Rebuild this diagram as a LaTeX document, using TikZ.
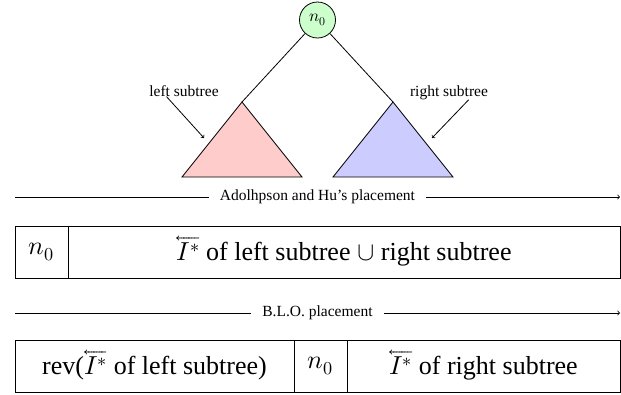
\documentclass[tikz,border=0pt]{standalone}
\usepackage{amsmath}
\usepackage{unicode-math}
\setmainfont{Liberation Serif}
\setmathfont{latinmodern-math.otf}
\usetikzlibrary{positioning,calc}
\begin{document}
\begin{tikzpicture}[>=to,x=1pt,y=-1pt,line width=0.8pt,
	big/.style={font=\fontsize{26}{30}\selectfont},
	small/.style={font=\fontsize{15.5}{18}\selectfont},
	cell/.style={draw,rectangle,minimum height=52pt,inner sep=0pt,outer sep=0pt,big},
	band/.style={fill=white,inner xsep=11pt,inner ysep=2pt,small}]
	\useasboundingbox (0,0) rectangle (621,394);
	% the tree
	\node[draw,circle,fill=green!20,minimum size=36pt,inner sep=0pt,font=\fontsize{17}{20}\selectfont] (root) at (317.5,20) {$n_0$};
	\coordinate (ltop) at (242,102);
	\coordinate (lbl) at (182,177);
	\coordinate (lbr) at (302,177);
	\coordinate (rtop) at (393,102);
	\coordinate (rbl) at (333,177);
	\coordinate (rbr) at (453,177);
	\filldraw[fill=red!20] (ltop) -- (lbl) -- (lbr) -- cycle;
	\filldraw[fill=blue!20] (rtop) -- (rbl) -- (rbr) -- cycle;
	\draw (root) -- (ltop);
	\draw (root) -- (rtop);
	\node[small,anchor=base,inner sep=0pt] (lname) at (184,96) {left subtree};
	\node[small,anchor=base,inner sep=0pt] (rname) at (449,96) {right subtree};
	\coordinate (lpoint) at (204,138);
	\coordinate (rpoint) at (432,138);
	\draw[->] ($(lname.south)!0.5!(lname.south west)$) -- (lpoint);
	\draw[->] ($(rname.south)!0.5!(rname.south east)$) -- (rpoint);
	% Adolphson and Hu
	\coordinate (ahfrom) at (15,197);
	\coordinate (ahto) at (620,197);
	\draw[->] (ahfrom) -- node[band] (ahname) {Adolhpson and Hu's placement} (ahto);
	\node[cell,minimum width=53pt,anchor=north west] (ahroot) at (15,226) {$n_0$};
	\node[cell,minimum width=552pt,right=0pt of ahroot] (ahrest) {$\overleftarrow{I^*}$ of left subtree $\cup$ right subtree};
	% B.L.O.
	\coordinate (blofrom) at (15,313);
	\coordinate (bloto) at (620,313);
	\draw[->] (blofrom) -- node[band] (bloname) {B.L.O. placement} (bloto);
	\node[cell,minimum width=279pt,anchor=north west] (bloleft) at (15,340) {rev($\overleftarrow{I^*}$ of left subtree)};
	\node[cell,minimum width=53pt,right=0pt of bloleft] (bloroot) {$n_0$};
	\node[cell,minimum width=273pt,right=0pt of bloroot] (bloright) {$\overleftarrow{I^*}$ of right subtree};
\end{tikzpicture}
\end{document}
